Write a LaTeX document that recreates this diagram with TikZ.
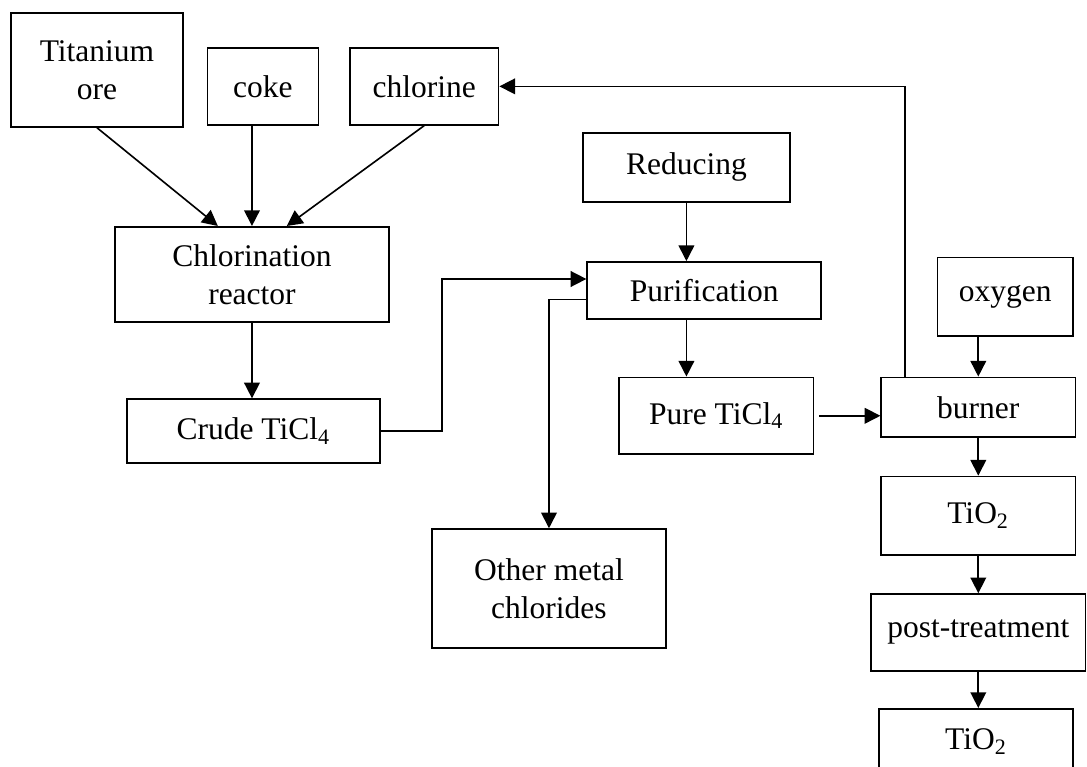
\documentclass[tikz,border=0pt]{standalone}
\usepackage{fontspec}
\setmainfont{Liberation Serif}
\usepackage{tikz}
\usetikzlibrary{arrows.meta,positioning,calc}
\tikzset{
  box/.style={draw=black, line width=0.65pt, align=center, inner sep=2pt,
              font=\fontsize{12.6}{15.2}\selectfont, minimum height=10.8mm},
  ar/.style={-{Triangle[length=2.2mm,width=2.2mm]}, draw=black, line width=0.65pt},
}

\begin{document}
\begin{tikzpicture}[node distance=5.5mm and 9mm]
\path[fill=white, use as bounding box] (0,0) rectangle (152.8mm,-107.7mm);

% raw materials
\node[box, minimum width=24.2mm, minimum height=16mm] (ore) at (13.63mm,-9.84mm) {Titanium\\ore};
\node[box, minimum width=15.6mm, anchor=south west] (coke) at ([xshift=3.2mm,yshift=0.3mm]ore.south east) {coke};
\node[box, minimum width=20.9mm, right=4.2mm of coke] (chlorine) {chlorine};

\node[box, minimum width=38.5mm, minimum height=13.4mm] (reactor) at (35.42mm,-38.58mm) {Chlorination\\reactor};
\node[box, minimum width=35.6mm, minimum height=9mm, below=10.6mm of reactor, xshift=0.2mm] (crude) {Crude TiCl\textsubscript{4}};

% purification
\node[box, minimum width=29.1mm, minimum height=9.7mm] (reducing) at (96.49mm,-23.54mm) {Reducing};
\node[box, minimum width=32.9mm, minimum height=8mm, below=8.2mm of reducing, xshift=2.5mm] (purif) {Purification};
\node[box, minimum width=27.3mm, below=8.0mm of purif, xshift=1.7mm] (pure) {Pure TiCl\textsubscript{4}};
\node[box, minimum width=32.9mm, minimum height=16.7mm] (other) at (77.17mm,-82.72mm) {Other metal\\chlorides};

% oxidation line
\node[box, minimum width=27.3mm, minimum height=8.4mm, right=9.3mm of pure.north east, anchor=north west] (burner) {burner};
\node[box, minimum width=19.1mm, minimum height=11mm, above=5.6mm of burner.north east, anchor=south east, xshift=-0.3mm] (oxygen) {oxygen};
\node[box, minimum width=27.3mm, minimum height=11mm, below=5.3mm of burner] (tio2) {TiO\textsubscript{2}};
\node[box, minimum width=30.1mm, below=5.3mm of tio2] (post) {post-treatment};
\node[box, minimum width=27.3mm, minimum height=9.2mm, below=5.1mm of post, xshift=-0.3mm] (tio2b) {TiO\textsubscript{2}};

\draw[ar] (ore.south) -- ([xshift=-4.8mm]reactor.north);
\draw[ar] (reactor.north |- coke.south) -- (reactor.north);
\draw[ar] (chlorine.south) -- ([xshift=4.9mm]reactor.north);
\draw[ar] (reactor.south) -- (reactor.south |- crude.north);
\draw[ar] (crude.east) -- ++(8.6mm,0) |- ([yshift=1.6mm]purif.west);
\draw[ar] (reducing.south) -- (reducing.south |- purif.north);
\draw[ar] ([yshift=-1.3mm]purif.west) -| (other.north);
\draw[ar] (reducing.south |- purif.south) -- (reducing.south |- pure.north);
\draw[ar, shorten <=2pt] (pure.east) -- (pure.east -| burner.west);
\draw[ar] (oxygen.south -| burner.north) -- (burner.north);
\draw[ar] ([xshift=-10.3mm]burner.north) |- (chlorine.east);
\draw[ar] (burner) -- (tio2);
\draw[ar] (tio2) -- (post);
\draw[ar] (post) -- (post |- tio2b.north);
\end{tikzpicture}
\end{document}
